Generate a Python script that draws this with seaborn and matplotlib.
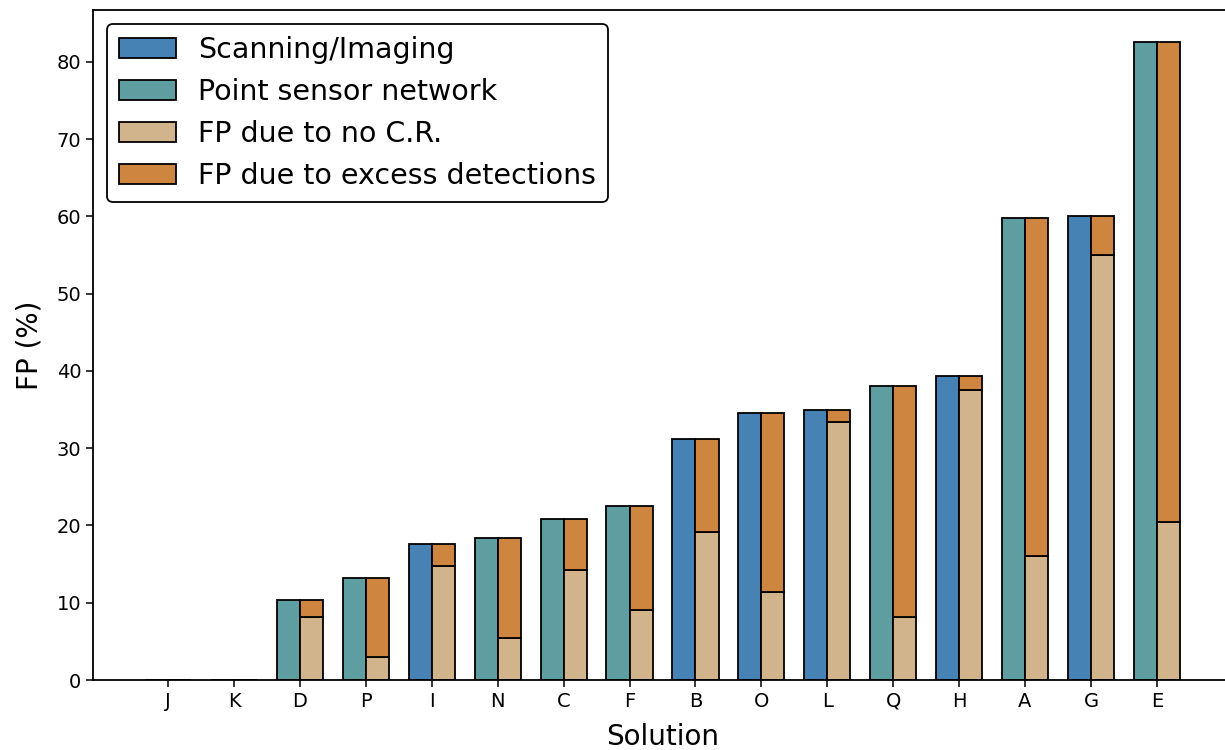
import matplotlib
matplotlib.use("Agg")
import matplotlib.pyplot as plt
import seaborn as sns
import numpy as np
from matplotlib.patches import Patch

solutions = ["J", "K", "D", "P", "I", "N", "C", "F", "B", "O", "L", "Q", "H", "A", "G", "E"]
total_fp = [0, 0, 10.4, 13.2, 17.6, 18.4, 20.8, 22.5, 31.2, 34.6, 35.0, 38.1, 39.3, 59.8, 60.0, 82.6]
fp_no_cr = [0, 0, 8.2, 3.0, 14.7, 5.4, 14.2, 9.0, 19.2, 11.4, 33.4, 8.1, 37.5, 16.0, 55.0, 20.4]
sensor_type = ["Point sensor network", "Point sensor network", "Point sensor network",
               "Point sensor network", "Scanning/Imaging", "Point sensor network",
               "Point sensor network", "Point sensor network", "Scanning/Imaging",
               "Scanning/Imaging", "Scanning/Imaging", "Point sensor network",
               "Scanning/Imaging", "Point sensor network", "Scanning/Imaging",
               "Point sensor network"]
legend_labels = ["Scanning/Imaging", "Point sensor network", "FP due to no C.R.", "FP due to excess detections"]

sns.set_style("ticks")
plt.rcParams['font.family'] = ['DejaVu Sans']
plt.rcParams['text.color'] = 'black'
plt.rcParams['axes.labelcolor'] = 'black'
plt.rcParams['xtick.color'] = 'black'
plt.rcParams['ytick.color'] = 'black'

colors = {"Scanning/Imaging": "#4682B4", "Point sensor network": "#5F9EA0"}
tan = "#D2B48C"
orange = "#CD853F"

fig = plt.figure(figsize=(12.25, 7.5), dpi=100)
ax = fig.add_axes([93/1225, 1-680/750, (1232-93)/1225, (680-10)/750])

x = np.arange(len(solutions))
w = 0.35
tot = np.array(total_fp)
ncr = np.array(fp_no_cr)
exc = tot - ncr
lw = 1.3
ax.bar(x - w/2, tot, width=w, color=[colors[t] for t in sensor_type], edgecolor="black", linewidth=lw)
ax.bar(x + w/2, ncr, width=w, color=tan, edgecolor="black", linewidth=lw)
ax.bar(x + w/2, exc, width=w, bottom=ncr, color=orange, edgecolor="black", linewidth=lw)

ax.set_xticks(x)
ax.set_xticklabels(solutions, fontsize=14)
ax.set_xlim(-1.14, 16.14)
ax.set_ylim(0, 86.7)
ax.set_yticks(np.arange(0, 81, 10))
ax.tick_params(axis='y', labelsize=14, length=5, width=1.1)
ax.tick_params(axis='x', length=5, width=1.1)
for s in ax.spines.values():
    s.set_linewidth(1.3)
    s.set_color("black")
ax.set_xlabel("Solution", fontsize=20, labelpad=8.5)
ax.set_ylabel("FP (%)", fontsize=20, labelpad=9)

handles = [Patch(facecolor=colors["Scanning/Imaging"], edgecolor="black", linewidth=lw, label=legend_labels[0]),
           Patch(facecolor=colors["Point sensor network"], edgecolor="black", linewidth=lw, label=legend_labels[1]),
           Patch(facecolor=tan, edgecolor="black", linewidth=lw, label=legend_labels[2]),
           Patch(facecolor=orange, edgecolor="black", linewidth=lw, label=legend_labels[3])]
leg = ax.legend(handles=handles, loc="upper left", fontsize=20.5, frameon=True, fancybox=True,
                edgecolor="black", framealpha=1, bbox_to_anchor=(0, 1), borderaxespad=0.5)
leg.get_frame().set_linewidth(1.3)

fig.savefig("out.png", dpi=100)
